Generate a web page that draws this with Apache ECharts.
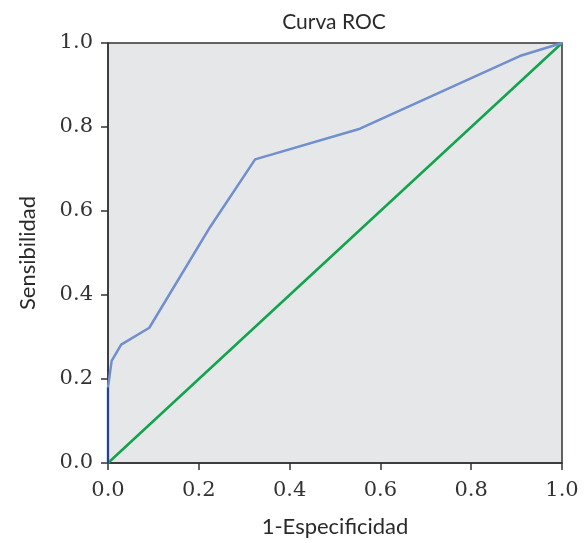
<!DOCTYPE html>
<html>
<head>
<meta charset="utf-8">
<script src="https://cdn.jsdelivr.net/npm/echarts@6/dist/echarts.min.js"></script>
<style>
  html, body { margin: 0; padding: 0; background: #fff; }
  #chart { width: 584px; height: 543px; }
</style>
</head>
<body>
<div id="chart"></div>
<script>
// ROC curve points: [1-especificidad, sensibilidad]
const rocX = [0, 0, 0.008, 0.029, 0.091, 0.225, 0.324, 0.555, 0.907, 1];
const rocY = [0, 0.18, 0.243, 0.282, 0.322, 0.562, 0.723, 0.796, 0.969, 1];
// reference diagonal
const diagX = [0, 1];
const diagY = [0, 1];
const tickLabels = ['0.0', '0.2', '0.4', '0.6', '0.8', '1.0'];

const font = 'Lato, "Open Sans", sans-serif';
const numFont = '"DejaVu Serif", serif';
const toPairs = (xs, ys) => xs.map((x, i) => [x, ys[i]]);

const chart = echarts.init(document.getElementById('chart'));
const axisCommon = {
  type: 'value',
  min: 0,
  max: 1,
  interval: 0.2,
  splitLine: { show: false },
  axisLine: { show: true, lineStyle: { color: '#333', width: 1.5 } },
  axisTick: { show: true, length: 7, lineStyle: { color: '#333', width: 1.5 } },
  axisLabel: {
    color: '#333',
    fontFamily: numFont,
    fontSize: 21,
    formatter: v => tickLabels[Math.round(v / 0.2)]
  },
  nameLocation: 'middle',
  nameTextStyle: { color: '#2a2a2a', fontFamily: font, fontSize: 22 }
};

chart.setOption({
  animation: false,
  title: {
    text: 'Curva ROC',
    left: 329,
    textAlign: 'center',
    top: 7,
    textStyle: { color: '#2a2a2a', fontFamily: font, fontSize: 21, fontWeight: 'normal' }
  },
  grid: {
    left: 108,
    right: 22,
    top: 43,
    bottom: 77,
    show: true,
    backgroundColor: '#e6e7e9',
    borderColor: '#333',
    borderWidth: 1.5
  },
  xAxis: Object.assign({}, axisCommon, {
    name: '1-Especificidad',
    nameGap: 53,
    axisLabel: Object.assign({}, axisCommon.axisLabel, { margin: 17 })
  }),
  yAxis: Object.assign({}, axisCommon, {
    name: 'Sensibilidad',
    nameGap: 69,
    axisLabel: Object.assign({}, axisCommon.axisLabel, { margin: 15 })
  }),
  series: [
    {
      name: 'diagonal',
      type: 'line',
      data: toPairs(diagX, diagY),
      symbol: 'none',
      lineStyle: { color: '#11a44c', width: 2.5 }
    },
    {
      name: 'ROC',
      type: 'line',
      data: toPairs(rocX, rocY),
      symbol: 'none',
      lineStyle: { color: '#6f8fcf', width: 2.5 }
    },
    {
      name: 'ROC inicio',
      type: 'line',
      data: toPairs(rocX.slice(0, 2), rocY.slice(0, 2)),
      symbol: 'none',
      lineStyle: { color: '#2b3f8f', width: 2 }
    }
  ]
});
</script>
</body>
</html>
